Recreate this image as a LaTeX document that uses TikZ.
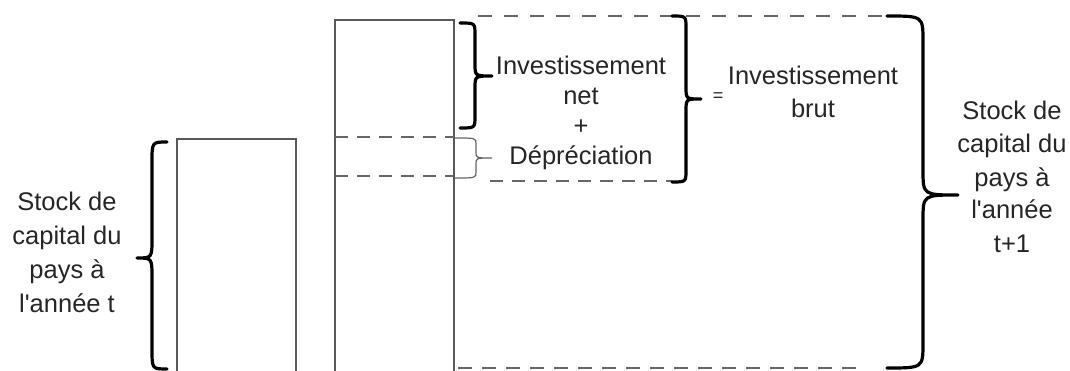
\documentclass[tikz,border=0pt]{standalone}
\usepackage{fontspec}
\setmainfont{Liberation Sans}[Ligatures=TeXOff]
% curly brace: #1 x of the curled ends, #2 x of the spine, #3 x of the tip,
% #4 y top, #5 y of the tip, #6 y bottom, #7 curl radius, #8 style
\newcommand{\curlybrace}[8]{%
  \draw[#8] (#1,#4) .. controls (#2,#4) .. (#2,#4+#7)
    -- (#2,#5-#7) .. controls (#2,#5) .. (#3,#5)
    .. controls (#2,#5) .. (#2,#5+#7)
    -- (#2,#6-#7) .. controls (#2,#6) .. (#1,#6);}
\begin{document}
\begin{tikzpicture}[x=1pt,y=-1pt,
  box/.style={draw=black!65, line width=1.6pt},
  dashline/.style={draw=black!60, line width=1.8pt, dash pattern=on 13pt off 9pt},
  bracebold/.style={draw=black, line width=3.2pt, line cap=round, line join=round},
  bracethin/.style={draw=black!60, line width=1.2pt},
  lbl/.style={font=\fontsize{25.5}{33}\selectfont, text=black!85, align=center, inner sep=0pt, anchor=base},
  smalllbl/.style={font=\fontsize{18}{20}\selectfont, text=black!85, inner sep=0pt}]
\useasboundingbox (0,0) rectangle (1070,371);
\clip (0,0) rectangle (1070,371);

% capital stock bars
\draw[box] (177,400) -- (177,139) -- (296,139) -- (296,400);
\draw[box] (335,400) -- (335,20) -- (454,20) -- (454,400);

% split of the new bar
\draw[dashline] (335,137) -- (454,137);
\draw[dashline] (335,176) -- (454,176);

% dashed outlines of the gross investment and of the new stock
\draw[dashline, dash pattern=on 14pt off 12pt] (478,16) -- (887,16);
\draw[dashline] (490,181) -- (672,181);
\draw[dashline, dash pattern=on 14pt off 10pt] (458,368) -- (862,368);

% braces
\curlybrace{167}{152}{137}{142}{258}{369}{20}{bracebold}
\curlybrace{460}{475}{492}{23}{76}{128}{12}{bracebold}
\curlybrace{455}{476}{492}{138}{158}{178}{6}{bracethin}
\curlybrace{672}{686}{701}{16}{99}{182}{12}{bracebold}
\curlybrace{887}{923}{958}{16}{195}{368}{25}{bracebold}

% labels (anchored on the baseline of their last line)
\node[lbl, font=\fontsize{25.5}{34}\selectfont] (stockt) at (67,312) {Stock de\\capital du\\pays à\\l'année t};
\node[lbl, font=\fontsize{25.5}{30}\selectfont] (netdep) at (581,165) {Investissement\\net\\+\\Dépréciation};
\node[smalllbl] (eq) at (718,97) {=};
\node[lbl] (brut) at (813,118) {Investissement\\brut};
\node[lbl] (stocktt) at (1012,252) {Stock de\\capital du\\pays à\\l'année\\t+1};
\end{tikzpicture}
\end{document}
